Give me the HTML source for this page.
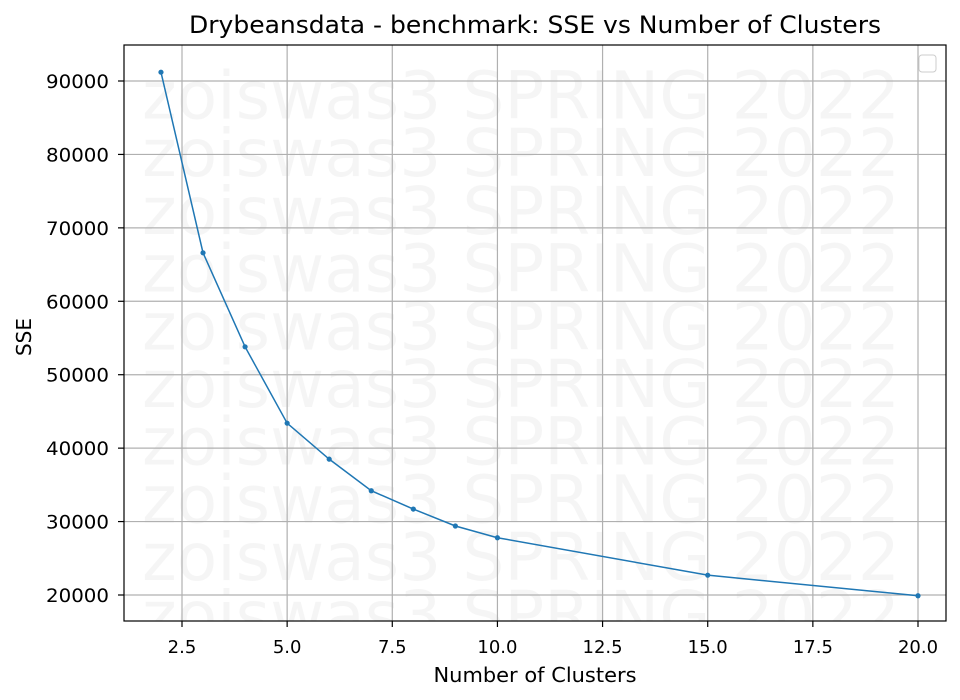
<!DOCTYPE html>
<html><head><meta charset="utf-8"><style>body{margin:0;background:#fff}svg{display:block;font-family:"DejaVu Sans","Liberation Sans",sans-serif}</style></head>
<body>
<svg id="chart" width="960" height="700" xmlns="http://www.w3.org/2000/svg">
<defs><clipPath id="clip"><rect x="124" y="45" width="822" height="576"/></clipPath></defs>
<rect x="0" y="0" width="960" height="700" fill="#fff"/>
<g id="wm" clip-path="url(#clip)"></g>
<g id="grid"></g>
<g id="series"></g>
<rect x="124" y="45" width="822" height="576" fill="none" stroke="#000" stroke-width="1.2"/>
<g id="ticks"></g>
<rect x="919" y="55" width="17" height="17" rx="3" fill="#fff" stroke="#ccc"/>
<text x="535" y="33" text-anchor="middle" font-size="24" textLength="692" lengthAdjust="spacingAndGlyphs">Drybeansdata - benchmark: SSE vs Number of Clusters</text>
<text x="535" y="682" text-anchor="middle" font-size="20" textLength="203" lengthAdjust="spacingAndGlyphs">Number of Clusters</text>
<text transform="translate(31,337) rotate(-90)" text-anchor="middle" font-size="20">SSE</text>
</svg>
<script>
const clusters=[2,3,4,5,6,7,8,9,10,15,20];
const sse=[91200,66600,53800,43400,38500,34200,31700,29400,27800,22700,19900];
const xTicks=[2.5,5.0,7.5,10.0,12.5,15.0,17.5,20.0];
const yTicks=[20000,30000,40000,50000,60000,70000,80000,90000];
const NS="http://www.w3.org/2000/svg";
const X=v=>182+(v-2.5)*(918-182)/17.5;
const Y=v=>595-(v-20000)*(595-81)/70000;
function mk(t,a,p){const e=document.createElementNS(NS,t);for(const k in a)e.setAttribute(k,a[k]);p.appendChild(e);return e;}
const wm=document.getElementById('wm');
for(let i=0;i<10;i++){const t=mk('text',{x:142,y:118.5+i*57.7,'font-size':66,fill:'#000','fill-opacity':0.04,textLength:758,lengthAdjust:'spacingAndGlyphs'},wm);


t.textContent='zoiswas3 SPRING 2022';}
const g=document.getElementById('grid'),tk=document.getElementById('ticks');
xTicks.forEach(v=>{const x=X(v);
const l=mk('line',{x1:x,x2:x,y1:45,y2:621,stroke:'#b0b0b0','stroke-width':1.2},g);


mk('line',{x1:x,x2:x,y1:621,y2:627,stroke:'#000','stroke-width':1.2},tk);
const t=mk('text',{x:x,y:653,'text-anchor':'middle','font-size':18},tk);


t.textContent=v.toFixed(1);});
yTicks.forEach(v=>{const y=Y(v);
const l=mk('line',{x1:124,x2:946,y1:y,y2:y,stroke:'#b0b0b0','stroke-width':1.2},g);


mk('line',{x1:118,x2:124,y1:y,y2:y,stroke:'#000','stroke-width':1.2},tk);
const t=mk('text',{x:109,y:y+7,'text-anchor':'end','font-size':19,textLength:63,lengthAdjust:'spacingAndGlyphs'},tk);


t.textContent=v;});
const s=document.getElementById('series');
const pl=mk('polyline',{points:clusters.map((c,i)=>X(c)+','+Y(sse[i])).join(' '),fill:'none',stroke:'#1f77b4','stroke-width':1.5},s);


clusters.forEach((c,i)=>{const p=mk('circle',{cx:X(c),cy:Y(sse[i]),r:2.6,fill:'#1f77b4'},s);

});
</script>
</body></html>
